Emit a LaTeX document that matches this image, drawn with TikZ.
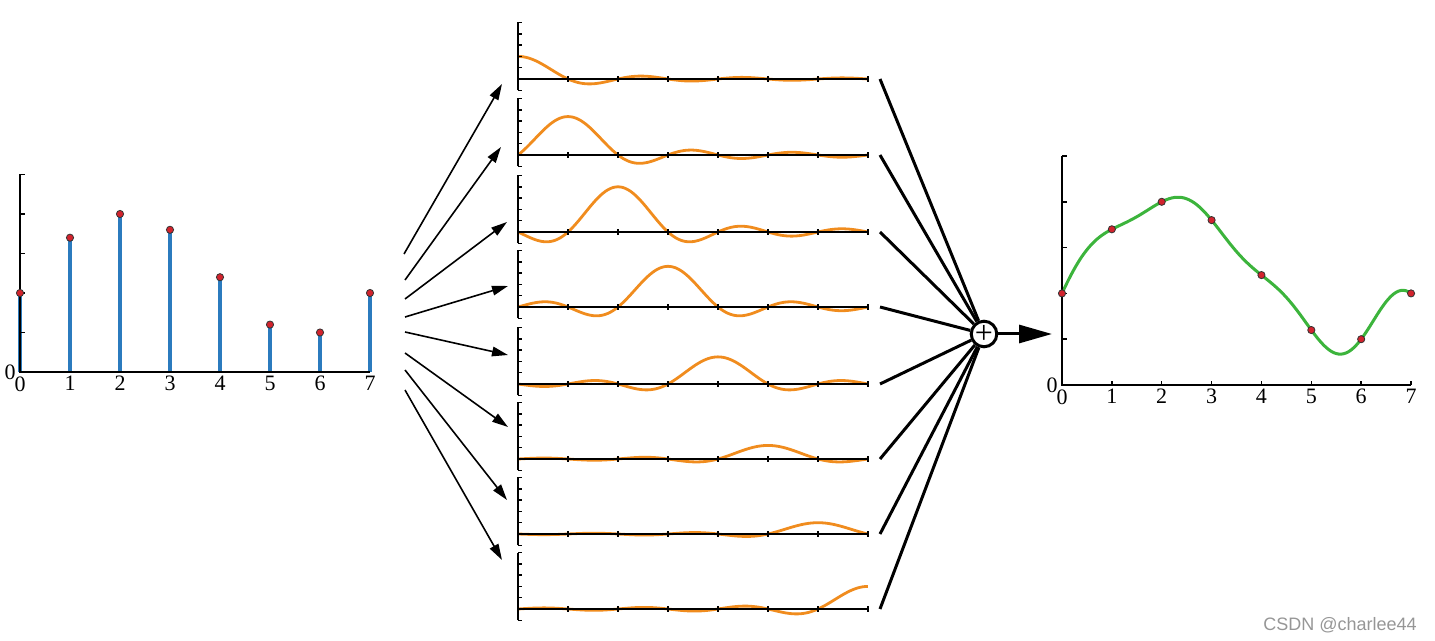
\documentclass[tikz,border=0pt]{standalone}
\usepackage{fontspec}
\setmainfont{Liberation Serif}
\newfontfamily\firmafont{Liberation Sans}
\usepackage{tikz}
\usetikzlibrary{arrows.meta}
\definecolor{blu}{RGB}{43,123,190}
\definecolor{arancio}{RGB}{240,140,30}
\definecolor{verde}{RGB}{60,180,60}
\definecolor{rosso}{RGB}{210,35,45}
\definecolor{grigio}{RGB}{150,150,150}
\tikzset{
  % Stili per assi, campioni e curve
  asse/.style={line width=0.75pt, black},
  stelo/.style={line width=1.6pt, blu},
  campione/.style={fill=rosso, draw=black!80, line width=0.4pt},
  nucleo/.style={line width=1.4pt, arancio, smooth, samples=141, domain=0:7},
  ricostruito/.style={line width=1.5pt, verde, smooth, samples=141, domain=0:7},
  etichetta/.style={font=\fontsize{11}{13}\selectfont, inner sep=2pt},
  % Stili per i collegamenti
  freccia/.style={-{Triangle[length=8pt,width=4.8pt]}, line width=0.8pt},
  linea/.style={line width=1.5pt},
  somma/.style={circle, draw, line width=1.5pt, fill=white, minimum size=12.3pt,
    inner sep=0pt, font=\fontsize{16}{16}\selectfont},
  uscita/.style={-{Triangle[length=16.5pt,width=9pt]}, line width=1.5pt},
  firma/.style={font=\firmafont\fontsize{9}{11}\selectfont, text=grigio}
}

\begin{document}
\begin{tikzpicture}[x=0.5pt, y=-0.5pt,
  declare function={snc(\t)=(abs(\t)<0.001)+(abs(\t)>=0.001)*sin(180*\t)/(pi*\t+(abs(\t)<0.001));}]
\useasboundingbox (0,0) rectangle (1435,641);

% Segnale campionato a sinistra
\begin{scope}[shift={(20,372)}, x=25pt, y=19.75pt]
  \draw[stelo] (0,0) -- (0,2);
  \draw[stelo] (1,0) -- (1,3.4);
  \draw[stelo] (2,0) -- (2,4);
  \draw[stelo] (3,0) -- (3,3.6);
  \draw[stelo] (4,0) -- (4,2.4);
  \draw[stelo] (5,0) -- (5,1.2);
  \draw[stelo] (6,0) -- (6,1);
  \draw[stelo] (7,0) -- (7,2);
  \draw[asse] (0,5) -- (0,0) -- (7,0);
  \foreach \k in {0,...,5} \draw[asse] (0,\k) -- ++(2.5pt,0);
  \foreach \n/\v in {0/2,1/3.4,2/4,3/3.6,4/2.4,5/1.2,6/1,7/2}
    \filldraw[campione] (\n,\v) circle[radius=1.8pt];
  \node[etichetta, left] (sy0) at (0,0) {0};
  \foreach \n in {0,...,7}
    \node[etichetta, below] (sx\n) at (\n,0) {\n};
\end{scope}

% Pannello 1 - sinc centrata in 0
\begin{scope}[shift={(518,79)}, x=25pt, y=5.65pt]
  \draw[nucleo] plot (\x, {2*snc(\x)});
  \draw[asse] (0,-1) -- (0,5) (0,0) -- (7,0);
  \foreach \k in {-1,...,5} \draw[asse] (0,\k) -- ++(2pt,0);
  \foreach \k in {1,...,7} \draw[asse] (\k,-0.25) -- (\k,0.25);
\end{scope}

% Pannello 2 - sinc centrata in 1
\begin{scope}[shift={(518,155)}, x=25pt, y=5.65pt]
  \draw[nucleo] plot (\x, {3.4*snc(\x-1)});
  \draw[asse] (0,-1) -- (0,5) (0,0) -- (7,0);
  \foreach \k in {-1,...,5} \draw[asse] (0,\k) -- ++(2pt,0);
  \foreach \k in {1,...,7} \draw[asse] (\k,-0.25) -- (\k,0.25);
\end{scope}

% Pannello 3 - sinc centrata in 2
\begin{scope}[shift={(518,232)}, x=25pt, y=5.65pt]
  \draw[nucleo] plot (\x, {4*snc(\x-2)});
  \draw[asse] (0,-1) -- (0,5) (0,0) -- (7,0);
  \foreach \k in {-1,...,5} \draw[asse] (0,\k) -- ++(2pt,0);
  \foreach \k in {1,...,7} \draw[asse] (\k,-0.25) -- (\k,0.25);
\end{scope}

% Pannello 4 - sinc centrata in 3
\begin{scope}[shift={(518,307)}, x=25pt, y=5.65pt]
  \draw[nucleo] plot (\x, {3.6*snc(\x-3)});
  \draw[asse] (0,-1) -- (0,5) (0,0) -- (7,0);
  \foreach \k in {-1,...,5} \draw[asse] (0,\k) -- ++(2pt,0);
  \foreach \k in {1,...,7} \draw[asse] (\k,-0.25) -- (\k,0.25);
\end{scope}

% Pannello 5 - sinc centrata in 4
\begin{scope}[shift={(518,384)}, x=25pt, y=5.65pt]
  \draw[nucleo] plot (\x, {2.4*snc(\x-4)});
  \draw[asse] (0,-1) -- (0,5) (0,0) -- (7,0);
  \foreach \k in {-1,...,5} \draw[asse] (0,\k) -- ++(2pt,0);
  \foreach \k in {1,...,7} \draw[asse] (\k,-0.25) -- (\k,0.25);
\end{scope}

% Pannello 6 - sinc centrata in 5
\begin{scope}[shift={(518,459)}, x=25pt, y=5.65pt]
  \draw[nucleo] plot (\x, {1.2*snc(\x-5)});
  \draw[asse] (0,-1) -- (0,5) (0,0) -- (7,0);
  \foreach \k in {-1,...,5} \draw[asse] (0,\k) -- ++(2pt,0);
  \foreach \k in {1,...,7} \draw[asse] (\k,-0.25) -- (\k,0.25);
\end{scope}

% Pannello 7 - sinc centrata in 6
\begin{scope}[shift={(518,534)}, x=25pt, y=5.65pt]
  \draw[nucleo] plot (\x, {snc(\x-6)});
  \draw[asse] (0,-1) -- (0,5) (0,0) -- (7,0);
  \foreach \k in {-1,...,5} \draw[asse] (0,\k) -- ++(2pt,0);
  \foreach \k in {1,...,7} \draw[asse] (\k,-0.25) -- (\k,0.25);
\end{scope}

% Pannello 8 - sinc centrata in 7
\begin{scope}[shift={(518,609)}, x=25pt, y=5.65pt]
  \draw[nucleo] plot (\x, {2*snc(\x-7)});
  \draw[asse] (0,-1) -- (0,5) (0,0) -- (7,0);
  \foreach \k in {-1,...,5} \draw[asse] (0,\k) -- ++(2pt,0);
  \foreach \k in {1,...,7} \draw[asse] (\k,-0.25) -- (\k,0.25);
\end{scope}

% Segnale ricostruito a destra
\begin{scope}[shift={(1062,385)}, x=24.93pt, y=22.9pt]
  \draw[ricostruito] plot (\x, {2*snc(\x)+3.4*snc(\x-1)+4*snc(\x-2)+3.6*snc(\x-3)
    +2.4*snc(\x-4)+1.2*snc(\x-5)+snc(\x-6)+2*snc(\x-7)});
  \draw[asse] (0,5) -- (0,0) -- (7,0);
  \foreach \k in {0,...,5} \draw[asse] (0,\k) -- ++(2.5pt,0);
  \foreach \k in {1,...,7} \draw[asse] (\k,0) -- ++(0,2pt);
  \foreach \n/\v in {0/2,1/3.4,2/4,3/3.6,4/2.4,5/1.2,6/1,7/2}
    \filldraw[campione] (\n,\v) circle[radius=1.8pt];
  \node[etichetta, left] (ry0) at (0,0) {0};
  \foreach \n in {0,...,7}
    \node[etichetta, below] (rx\n) at (\n,0) {\n};
\end{scope}

% Punti di partenza e di arrivo delle frecce
\coordinate (src1) at (404,254); \coordinate (in1) at (502,84);
\coordinate (src2) at (405,280); \coordinate (in2) at (501,147);
\coordinate (src3) at (405,299); \coordinate (in3) at (507,222);
\coordinate (src4) at (405,317); \coordinate (in4) at (508,286);
\coordinate (src5) at (405,332); \coordinate (in5) at (508,355);
\coordinate (src6) at (405,353); \coordinate (in6) at (508,427);
\coordinate (src7) at (405,370); \coordinate (in7) at (507,500);
\coordinate (src8) at (405,390); \coordinate (in8) at (502,560);

% Uscite dei pannelli
\coordinate (out1) at (880,79);
\coordinate (out2) at (880,155);
\coordinate (out3) at (880,232);
\coordinate (out4) at (880,307);
\coordinate (out5) at (880,384);
\coordinate (out6) at (880,459);
\coordinate (out7) at (880,534);
\coordinate (out8) at (880,609);

% Nodo sommatore e destinazione
\node[somma] (sum) at (984,334) {+};
\coordinate (dst) at (1052,334);

% Frecce verso i pannelli
\draw[freccia] (src1) -- (in1);
\draw[freccia] (src2) -- (in2);
\draw[freccia] (src3) -- (in3);
\draw[freccia] (src4) -- (in4);
\draw[freccia] (src5) -- (in5);
\draw[freccia] (src6) -- (in6);
\draw[freccia] (src7) -- (in7);
\draw[freccia] (src8) -- (in8);

% Linee verso il sommatore
\draw[linea] (out1) -- (sum);
\draw[linea] (out2) -- (sum);
\draw[linea] (out3) -- (sum);
\draw[linea] (out4) -- (sum);
\draw[linea] (out5) -- (sum);
\draw[linea] (out6) -- (sum);
\draw[linea] (out7) -- (sum);
\draw[linea] (out8) -- (sum);
\draw[uscita] (sum) -- (dst);

% Firma
\node[firma] (firma) at (1340,625) {CSDN @charlee44};

\end{tikzpicture}
\end{document}
